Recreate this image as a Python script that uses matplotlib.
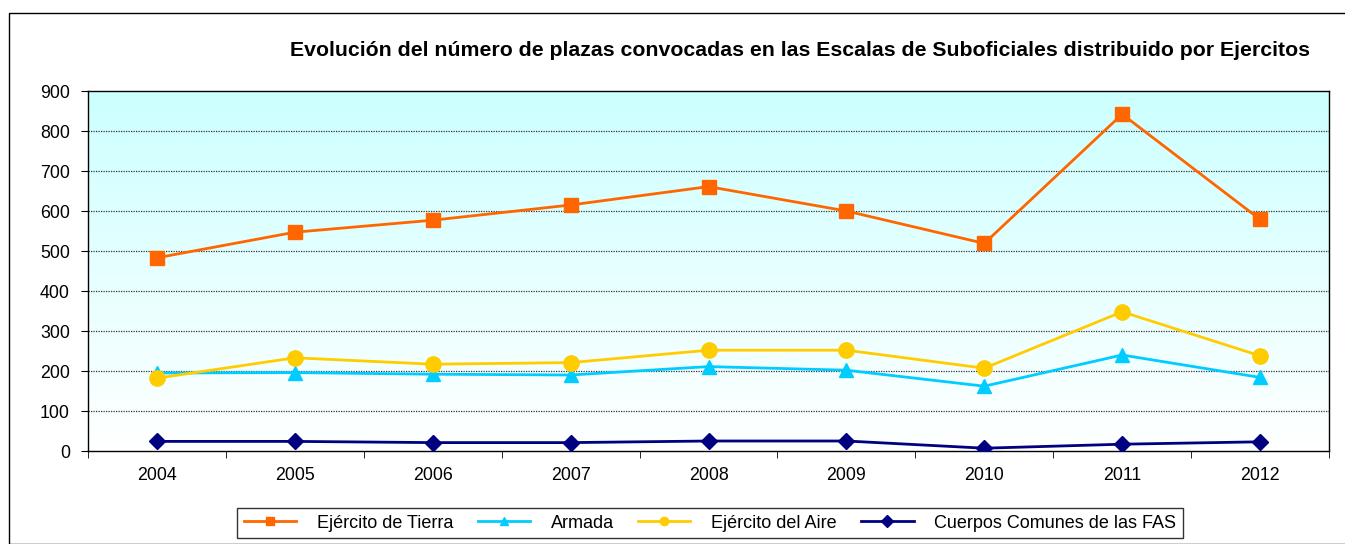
import numpy as np
import matplotlib
matplotlib.use("Agg")
import matplotlib.pyplot as plt
from matplotlib.patches import Rectangle
from matplotlib.lines import Line2D

plt.rcParams["font.family"] = ["Liberation Sans", "DejaVu Sans"]

years = ["2004", "2005", "2006", "2007", "2008", "2009", "2010", "2011", "2012"]
tierra = [483, 547, 577, 615, 661, 600, 519, 842, 579]
armada = [195, 196, 192, 190, 211, 202, 162, 240, 184]
aire = [182, 233, 217, 221, 252, 252, 207, 348, 238]
cuerpos = [24, 24, 21, 21, 25, 25, 7, 17, 23]

names = ["Ejército de Tierra", "Armada", "Ejército del Aire", "Cuerpos Comunes de las FAS"]
colors = ["#FF6600", "#00CCFF", "#FFCC00", "#000080"]
markers = ["s", "^", "o", "D"]

title = "Evolución del número de plazas convocadas en las Escalas de Suboficiales distribuido por Ejercitos"

W, H = 1345, 544
fig = plt.figure(figsize=(W / 100, H / 100), dpi=100)

# outer frame of the chart object
fig.patches.append(Rectangle((9 / W, 0), 2, (H - 13) / H, transform=fig.transFigure,
                             fill=False, edgecolor="black", linewidth=1))

ax = fig.add_axes([88 / W, 1 - 451 / H, (1329 - 88) / W, (451 - 91) / H])

# background gradient: light cyan at top to white at bottom
grad = np.linspace(0, 1, 256).reshape(-1, 1)
top = np.array([0xCC, 0xFF, 0xFF]) / 255
bottom = np.array([1.0, 1.0, 1.0])
img = (bottom + (top - bottom) * grad).reshape(256, 1, 3)
ax.imshow(img, extent=[0, 1, 0, 1], transform=ax.transAxes, origin="lower",
          aspect="auto", zorder=0)

x = np.arange(len(years))
sizes = [10, 10, 11, 8]
for vals, name, c, m, s in zip([tierra, armada, aire, cuerpos], names, colors, markers, sizes):
    ax.plot(x, vals, color=c, lw=2, marker=m, ms=s, label=name, zorder=3)

ax.set_xlim(-0.5, len(years) - 0.5)
ax.set_ylim(0, 900)
ax.set_yticks(range(0, 901, 100))
ax.set_xticks(x)
ax.set_xticklabels(years)
ax.set_xticks(np.arange(-0.5, len(years), 1), minor=True)
ax.tick_params(axis="x", which="major", length=0, pad=11.5, labelsize=12.8)
ax.tick_params(axis="x", which="minor", length=5, direction="out")
ax.tick_params(axis="y", length=5, direction="out", pad=8, labelsize=12.8)

for yv in range(100, 900, 100):
    ax.axhline(yv, color="#333333", lw=0.9, ls=(0, (1, 1)), zorder=1)

for sp in ax.spines.values():
    sp.set_color("black")
    sp.set_linewidth(1)

fig.text(800 / W, 1 - 50 / H, title, ha="center", va="center",
         fontsize=15.3, fontweight="bold")

# legend handles use smaller markers, as in the original
handles = [Line2D([], [], color=c, lw=2, marker=m, ms=6) for c, m in zip(colors, markers)]
leg = fig.legend(handles, names, loc="center", bbox_to_anchor=(710 / W, 1 - 523 / H), ncol=4,
                 frameon=True, fancybox=False, fontsize=13, handlelength=2.9,
                 columnspacing=1.35, handletextpad=1.15, borderpad=0.35)
leg.get_frame().set_edgecolor("black")
leg.get_frame().set_linewidth(1)

fig.savefig("out.png", dpi=100)
